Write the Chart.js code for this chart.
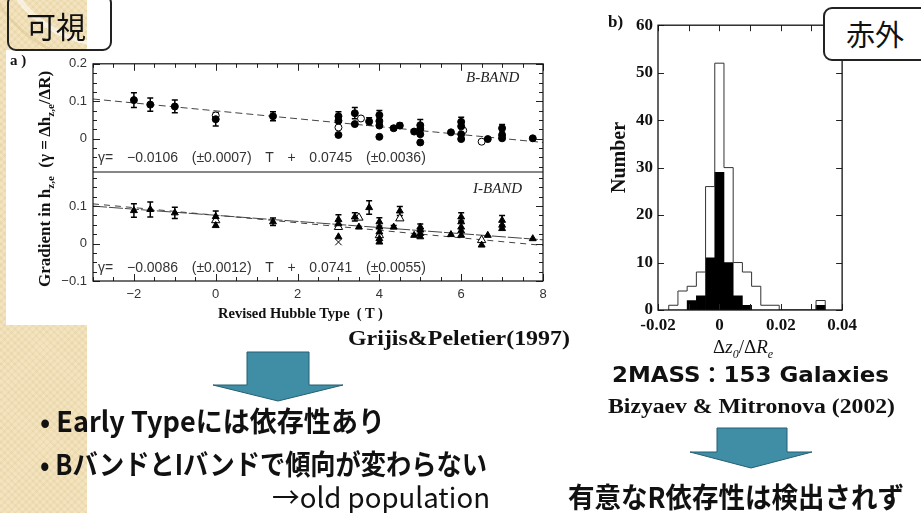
<!DOCTYPE html>
<html>
<head>
<meta charset="utf-8">
<script src="https://cdn.jsdelivr.net/npm/chart.js@4.4.1/dist/chart.umd.min.js"></script>
<style>
  html, body { margin: 0; padding: 0; }
  body { width: 921px; height: 513px; overflow: hidden; position: relative; background: #fff; font-family: "Liberation Sans", sans-serif; }
  .abs { position: absolute; white-space: nowrap; }
  #strip {
    left: 0; top: 0; width: 87px; height: 513px;
    background-color: #f3e4bf;
    background-image:
      radial-gradient(circle at 110px -70px, transparent 0 112px, rgba(255,255,255,0.55) 112px 117px, transparent 117px 132px, rgba(214,186,128,0.35) 132px 135px, transparent 135px),
      repeating-linear-gradient(45deg, rgba(205,175,115,0.13) 0 2px, transparent 2px 5px),
      repeating-linear-gradient(-45deg, rgba(205,175,115,0.13) 0 2px, transparent 2px 5px);
  }
  #panelA { left: 6px; top: 50px; width: 554px; height: 275px; background: #fff; }
  canvas { position: absolute; }
  .serifb { font-family: "Liberation Serif", serif; font-weight: bold; color: #111; }
  .jp { font-family: "Noto Sans CJK JP", sans-serif; color: #111; transform-origin: 0 50%; }
  .box { border: 2px solid #222; border-radius: 9px; font-family: "Noto Sans CJK JP", sans-serif; color: #111; box-sizing: border-box; }
  .eq { font-family: "Liberation Sans", sans-serif; font-size: 14px; color: #333; line-height: 15px; white-space: pre; word-spacing: 3px; }
  .band { font-family: "Liberation Serif", serif; font-style: italic; font-size: 15px; color: #222; line-height: 16px; }
</style>
</head>
<body>
<div id="strip" class="abs"></div>
<div id="panelA" class="abs"></div>
<canvas id="chartA" width="500" height="275" style="left:55px;top:50px;"></canvas>
<canvas id="chartH" width="262" height="330" style="left:600px;top:10px;"></canvas>

<div class="abs box" style="left:7px;top:-6px;width:105px;height:57px;font-size:30px;line-height:30px;padding:14px 0 0 17px;">可視</div>

<div class="abs serifb" style="left:10px;top:52px;font-size:15px;line-height:16px;">a )</div>
<div class="abs serifb" style="left:36px;top:287px;font-size:17px;line-height:18px;transform:rotate(-90deg);transform-origin:0 0;">Gradient in h<sub style="font-size:11px">z,e</sub>&nbsp;&nbsp;(γ = Δh<sub style="font-size:11px">z,e</sub>/ΔR)</div>
<div class="abs band" style="left:466px;top:69px;">B-BAND</div>
<div class="abs band" style="left:473px;top:180px;">I-BAND</div>
<div class="abs eq" style="left:98px;top:150px;">γ=  −0.0106  (±0.0007)  T  +  0.0745  (±0.0036)</div>
<div class="abs eq" style="left:98px;top:260px;">γ=  −0.0086  (±0.0012)  T  +  0.0741  (±0.0055)</div>
<div class="abs serifb" style="left:218px;top:305px;font-size:14.5px;line-height:16px;">Revised Hubble Type&nbsp;&nbsp;( T )</div>
<div class="abs serifb fit" data-w="222" style="left:348px;top:326px;font-size:21px;line-height:24px;transform-origin:0 50%;">Grijis&amp;Peletier(1997)</div>

<div class="abs serifb" style="left:608px;top:13px;font-size:17px;line-height:18px;">b)</div>
<div class="abs serifb" style="left:607px;top:193px;font-size:20px;line-height:22px;transform:rotate(-90deg);transform-origin:0 0;">Number</div>
<div class="abs" style="left:713px;top:337px;font-family:'Liberation Serif',serif;font-size:19px;line-height:20px;color:#111;">Δ<i>z</i><sub style="font-size:12px"><i>0</i></sub>/Δ<i>R</i><sub style="font-size:12px"><i>e</i></sub></div>
<div class="abs box" style="left:823px;top:7px;width:110px;height:54px;background:#fff;font-size:29px;line-height:29px;padding:10px 0 0 21px;">赤外</div>

<div class="abs fit" data-w="277" style="left:612px;top:362px;font-family:'DejaVu Sans','Noto Sans CJK JP',sans-serif;font-weight:bold;font-size:22px;line-height:26px;color:#111;transform-origin:0 50%;">2MASS：153 Galaxies</div>
<div class="abs serifb fit" data-w="287" style="left:608px;top:394px;font-size:20px;line-height:24px;transform-origin:0 50%;">Bizyaev &amp; Mitronova (2002)</div>

<svg class="abs" style="left:0;top:0;" width="921" height="513">
  <polygon points="247,352 309,352 309,385 343,385 278,401 213,385 247,385" fill="#3f8ea6" stroke="#245e70" stroke-width="1"/>
  <polygon points="717,428 787,428 787,452 812,452 751,468 690,452 717,452" fill="#3f8ea6" stroke="#245e70" stroke-width="1"/>
</svg>

<div class="abs jp fit" data-w="345" style="left:40px;top:405px;font-size:28px;line-height:30px;font-weight:bold;">• Early Typeには依存性あり</div>
<div class="abs jp fit" data-w="447" style="left:40px;top:448px;font-size:28px;line-height:30px;font-weight:bold;">• BバンドとIバンドで傾向が変わらない</div>
<div class="abs jp fit" data-w="218" style="left:272px;top:481px;font-size:28px;line-height:30px;">→old population</div>
<div class="abs jp fit" data-w="336" style="left:568px;top:481px;font-size:28px;line-height:30px;font-weight:bold;">有意なR依存性は検出されず</div>

<script>
// ---- panel a: disk scale-height gradient vs Hubble type ----
const hubbleTicks = [-2, 0, 2, 4, 6, 8];
const bBandTicks = [0, 0.1, 0.2];
const iBandTicks = [-0.1, 0, 0.1];

const bFilledT = [-2, -1.6, -1, 0, 1.4, 3, 3, 3, 3.4, 3.4, 3.75, 4, 4, 4, 4, 4.35, 4.5, 4.85, 5, 5, 5, 5, 5.75, 6, 6, 6, 6, 6.65, 7, 7, 7, 7.75];
const bFilledV = [0.103, 0.091, 0.086, 0.052, 0.06, 0.06, 0.048, 0.01, 0.068, 0.039, 0.046, 0.063, 0.047, 0.035, 0.005, 0.028, 0.035, 0.019, 0.036, 0.026, 0.012, -0.01, 0.017, 0.045, 0.033, 0.012, -0.001, -0.001, 0.028, 0.01, 0.001, 0.001];
const bFilledErr = [0.02, 0.018, 0.017, 0.018, 0.012, 0.012, 0, 0, 0.015, 0, 0.01, 0.012, 0, 0, 0, 0.005, 0.006, 0, 0.015, 0, 0, 0, 0, 0.012, 0, 0, 0, 0, 0.01, 0, 0, 0];
const bHollowT = [0, 3, 3.55, 6.05, 6.5];
const bHollowV = [0.062, 0.03, 0.054, 0.022, -0.008];

const iFilledT = [-2, -1.6, -1, 0, 0, 1.4, 3, 3, 3, 3.4, 3.5, 3.75, 4, 4, 4, 4, 4, 4.35, 4.5, 4.85, 5, 5, 5, 5, 5.75, 6, 6, 6, 6, 6, 6.5, 6.65, 7, 7, 7, 7.75];
const iFilledV = [0.088, 0.091, 0.082, 0.072, 0.048, 0.058, 0.064, 0.053, 0.018, 0.071, 0.044, 0.096, 0.058, 0.044, 0.031, 0.013, 0.004, 0.044, 0.087, 0.022, 0.044, 0.036, 0.027, 0.018, 0.024, 0.071, 0.058, 0.044, 0.034, 0.022, -0.004, 0.022, 0.062, 0.049, 0.04, 0.013];
const iFilledErr = [0.018, 0.02, 0.015, 0.015, 0, 0.01, 0.013, 0, 0, 0.011, 0, 0.018, 0.011, 0, 0, 0, 0, 0.004, 0.012, 0, 0.008, 0, 0, 0, 0, 0.011, 0, 0, 0, 0, 0, 0, 0.013, 0, 0, 0];
const iHollowT = [0, 3, 3.5, 4, 4.5, 6.5];
const iHollowV = [0.062, 0.044, 0.069, 0.022, 0.067, 0.009];
const iCrossT = [3];
const iCrossV = [0.004];

const fitBandB = [{ x: -3, y: 0.106 }, { x: 8, y: -0.01 }];
const fitBandI = [{ x: -3, y: 0.1 }, { x: 8, y: 0.01 }];
const fitBandBonI = [{ x: -3, y: 0.106 }, { x: 8, y: -0.005 }];

// ---- panel b: 2MASS histogram ----
const binWidth = 0.003;
const histBins = [-0.015, -0.012, -0.009, -0.006, -0.003, 0, 0.003, 0.006, 0.009, 0.012, 0.015, 0.018, 0.021, 0.024, 0.027, 0.030, 0.033];
const histAll = [1, 4, 5, 8, 26, 52, 30, 10, 8, 5, 1, 1, 0, 0, 0, 0, 2];
const histBlack = [0, 0, 2, 3, 11, 29, 10, 3, 1, 0, 0, 0, 0, 0, 0, 0, 1];
const histTicksX = [-0.02, 0, 0.02, 0.04];
const histTicksY = [0, 10, 20, 30, 40, 50, 60];

function zip(xs, ys) {
  return xs.map((x, i) => ({ x, y: ys[i] }));
}

function fmtMinus(v) {
  return v < 0 ? '\u2212' + Math.abs(v) : String(v);
}

function isMult(v, step) {
  const r = v / step;
  return Math.abs(r - Math.round(r)) < 1e-6;
}

const innerTicks = {
  id: 'innerTicks',
  afterDraw(chart, args, opts) {
    const { ctx, chartArea: a } = chart;
    ctx.save();
    ctx.strokeStyle = '#222';
    ctx.lineWidth = 1;
    ctx.beginPath();
    const xs = chart.scales.x;
    for (let k = Math.ceil(xs.min / opts.xStep - 1e-6); k * opts.xStep <= xs.max + 1e-9; k++) {
      const v = k * opts.xStep;
      const p = Math.round(xs.getPixelForValue(v)) + 0.5;
      const len = isMult(v, opts.xMajor) ? opts.majorLen : opts.minorLen;
      ctx.moveTo(p, a.top); ctx.lineTo(p, a.top + len);
      ctx.moveTo(p, a.bottom); ctx.lineTo(p, a.bottom - len);
    }
    opts.yAxes.forEach((id) => {
      const ys = chart.scales[id];
      for (let k = Math.ceil(ys.min / opts.yStep - 1e-6); k * opts.yStep <= ys.max + 1e-9; k++) {
        const v = k * opts.yStep;
        const p = Math.round(ys.getPixelForValue(v)) + 0.5;
        const len = isMult(v, opts.yMajor) ? opts.majorLen : opts.minorLen;
        ctx.moveTo(a.left, p); ctx.lineTo(a.left + len, p);
        ctx.moveTo(a.right, p); ctx.lineTo(a.right - len, p);
      }
    });
    ctx.stroke();
    ctx.lineWidth = opts.frameWidth;
    ctx.strokeStyle = '#111';
    ctx.strokeRect(a.left, a.top, a.right - a.left, a.bottom - a.top);
    if (opts.yAxes.length > 1) {
      const upper = opts.yAxes.map((id) => chart.scales[id]).sort((p, q) => p.top - q.top)[0];
      const sep = Math.round(upper.bottom);
      ctx.beginPath();
      ctx.moveTo(a.left, sep); ctx.lineTo(a.right, sep);
      ctx.stroke();
    }
    ctx.restore();
  }
};

const errorBars = {
  id: 'errorBars',
  beforeDatasetsDraw(chart) {
    const ctx = chart.ctx;
    ctx.save();
    ctx.strokeStyle = '#000';
    ctx.lineWidth = 1.5;
    chart.data.datasets.forEach((ds, i) => {
      if (!ds.errors) return;
      const meta = chart.getDatasetMeta(i);
      const ys = chart.scales[ds.yAxisID];
      meta.data.forEach((pt, j) => {
        const e = ds.errors[j];
        if (!e) return;
        const v = ds.data[j].y;
        const top = ys.getPixelForValue(v + e);
        const bot = ys.getPixelForValue(v - e);
        ctx.beginPath();
        ctx.moveTo(pt.x, top); ctx.lineTo(pt.x, bot);
        ctx.moveTo(pt.x - 3, top); ctx.lineTo(pt.x + 3, top);
        ctx.moveTo(pt.x - 3, bot); ctx.lineTo(pt.x + 3, bot);
        ctx.stroke();
      });
    });
    ctx.restore();
  }
};

function points(data, axis, style, fill, radius, errors) {
  return {
    type: 'scatter', data, yAxisID: axis, pointStyle: style, pointRadius: radius,
    pointBackgroundColor: fill, pointBorderColor: '#000', pointBorderWidth: 1, errors, showLine: false
  };
}

function fitLine(data, axis, dash) {
  return {
    type: 'line', data, yAxisID: axis, borderColor: '#444', borderWidth: 1,
    borderDash: dash, pointRadius: 0, fill: false
  };
}

const tickFontA = { family: 'Liberation Sans', size: 13 };

function bandAxis(min, max, ticks) {
  return {
    type: 'linear', position: 'left', stack: 'hubble', stackWeight: 1, min, max,
    afterBuildTicks: (s) => { s.ticks = ticks.map((value) => ({ value })); },
    afterFit: (s) => { s.width = 38; },
    grid: { display: false, drawTicks: false },
    border: { display: false },
    ticks: { padding: 6, font: tickFontA, color: '#333', callback: fmtMinus, autoSkip: false }
  };
}

new Chart(document.getElementById('chartA'), {
  type: 'scatter',
  data: {
    datasets: [
      points(zip(bFilledT, bFilledV), 'yB', 'circle', '#000', 3.5, bFilledErr),
      points(zip(bHollowT, bHollowV), 'yB', 'circle', '#fff', 3.5),
      points(zip(iFilledT, iFilledV), 'yI', 'triangle', '#000', 4, iFilledErr),
      points(zip(iHollowT, iHollowV), 'yI', 'triangle', '#fff', 4.8),
      points(zip(iCrossT, iCrossV), 'yI', 'crossRot', '#000', 4.5),
      fitLine(fitBandB, 'yB', [7, 4]),
      fitLine(fitBandI, 'yI', [14, 2]),
      fitLine(fitBandBonI, 'yI', [6, 5])
    ]
  },
  options: {
    responsive: false,
    animation: false,
    events: [],
    layout: { padding: { top: 13, right: 12, left: 0, bottom: 0 } },
    plugins: {
      legend: { display: false },
      tooltip: { enabled: false },
      innerTicks: { xStep: 0.5, xMajor: 2, yStep: 0.025, yMajor: 0.1, majorLen: 7, minorLen: 4, frameWidth: 1.2, yAxes: ['yB', 'yI'] }
    },
    scales: {
      x: {
        type: 'linear', min: -3, max: 8,
        afterBuildTicks: (s) => { s.ticks = hubbleTicks.map((value) => ({ value })); },
        afterFit: (s) => { s.height = 44; },
        grid: { display: false, drawTicks: false },
        border: { display: false },
        ticks: { padding: 6, font: tickFontA, color: '#333', callback: fmtMinus, maxRotation: 0, autoSkip: false }
      },
      // stacked axes are laid out bottom-up, so the I band is listed first
      yI: bandAxis(-0.1, 0.19, iBandTicks),
      yB: bandAxis(-0.09, 0.2, bBandTicks)
    }
  },
  plugins: [innerTicks, errorBars]
});

const outline = [{ x: histBins[0] - binWidth / 2, y: 0 }];
histBins.forEach((c, i) => outline.push({ x: c + binWidth / 2, y: histAll[i] }));
outline.push({ x: histBins[histBins.length - 1] + binWidth / 2, y: 0 });

const tickFontH = { family: 'Liberation Serif', size: 17, weight: 'bold' };

new Chart(document.getElementById('chartH'), {
  type: 'bar',
  data: {
    datasets: [
      {
        type: 'line', data: outline, stepped: 'after', borderColor: '#333', borderWidth: 1,
        pointRadius: 0, fill: false
      },
      {
        type: 'bar', data: zip(histBins, histBlack), backgroundColor: '#000', borderWidth: 0,
        barPercentage: 1, categoryPercentage: 1, grouped: false
      }
    ]
  },
  options: {
    responsive: false,
    animation: false,
    events: [],
    layout: { padding: { top: 12, right: 11, left: 0, bottom: 0 } },
    plugins: {
      legend: { display: false },
      tooltip: { enabled: false },
      innerTicks: { xStep: 0.01, xMajor: 0.01, yStep: 10, yMajor: 10, majorLen: 6, minorLen: 6, frameWidth: 1.3, yAxes: ['y'] }
    },
    scales: {
      x: {
        type: 'linear', min: -0.02, max: 0.04, offset: false,
        afterBuildTicks: (s) => { s.ticks = histTicksX.map((value) => ({ value })); },
        afterFit: (s) => { s.height = 30; },
        grid: { display: false, drawTicks: false },
        border: { display: false },
        ticks: { padding: 5, font: tickFontH, color: '#111', maxRotation: 0, autoSkip: false,
          callback: (v) => (v === 0 ? '0' : v.toFixed(2)) }
      },
      y: {
        type: 'linear', min: 0, max: 60,
        afterBuildTicks: (s) => { s.ticks = histTicksY.map((value) => ({ value })); },
        afterFit: (s) => { s.width = 58; },
        grid: { display: false, drawTicks: false },
        border: { display: false },
        ticks: { padding: 5, font: tickFontH, color: '#111', autoSkip: false }
      }
    }
  },
  plugins: [innerTicks]
});

// squeeze the slide captions to the widths they take in the original slide
document.querySelectorAll('.fit').forEach((el) => {
  const w = el.getBoundingClientRect().width;
  el.style.transform = `scaleX(${Number(el.dataset.w) / w})`;
});
</script>
</body>
</html>
